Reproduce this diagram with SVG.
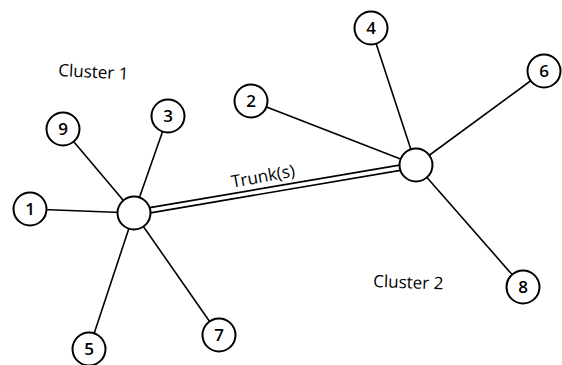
<svg xmlns="http://www.w3.org/2000/svg" width="562" height="365" viewBox="0 0 562 365">
  <style>
    .edge { stroke: #000; stroke-width: 1.6; fill: none; }
    .trunk-outer { stroke: #000; stroke-width: 7; fill: none; }
    .trunk-inner { stroke: #fff; stroke-width: 3.6; fill: none; }
    .node circle { fill: #fff; stroke: #000; stroke-width: 2; }
    .node text { font-family: "Open Sans", "Liberation Sans", sans-serif; font-size: 17px; font-weight: 600; text-anchor: middle; fill: #000; }
    .label { font-family: "Open Sans", "Liberation Sans", sans-serif; font-size: 17px; fill: #000; }
  </style>
  <rect width="562" height="365" fill="#fff"/>

  <g id="connectors">
    <line class="trunk-outer" x1="134" y1="213" x2="416" y2="165"/>
    <line class="trunk-inner" x1="134" y1="213" x2="416" y2="165"/>
    <line class="edge" x1="134" y1="213" x2="30" y2="209"/>
    <line class="edge" x1="134" y1="213" x2="63" y2="129"/>
    <line class="edge" x1="134" y1="213" x2="168" y2="116"/>
    <line class="edge" x1="134" y1="213" x2="89" y2="349"/>
    <line class="edge" x1="134" y1="213" x2="219" y2="335"/>
    <line class="edge" x1="416" y1="165" x2="251" y2="101"/>
    <line class="edge" x1="416" y1="165" x2="371" y2="28"/>
    <line class="edge" x1="416" y1="165" x2="544" y2="71"/>
    <line class="edge" x1="416" y1="165" x2="523" y2="287"/>
  </g>

  <g id="hub1" class="node"><circle cx="134" cy="213" r="16.5"/></g>
  <g id="hub2" class="node"><circle cx="416" cy="165" r="16.5"/></g>

  <g id="n1" class="node"><circle cx="30" cy="209" r="16.5"/><text x="30" y="215">1</text></g>
  <g id="n2" class="node"><circle cx="251" cy="101" r="16.5"/><text x="251" y="107">2</text></g>
  <g id="n3" class="node"><circle cx="168" cy="116" r="16.5"/><text x="168" y="122">3</text></g>
  <g id="n4" class="node"><circle cx="371" cy="28" r="16.5"/><text x="371" y="34">4</text></g>
  <g id="n5" class="node"><circle cx="89" cy="349" r="16.5"/><text x="89" y="355">5</text></g>
  <g id="n6" class="node"><circle cx="544" cy="71" r="16.5"/><text x="544" y="77">6</text></g>
  <g id="n7" class="node"><circle cx="219" cy="335" r="16.5"/><text x="219" y="341">7</text></g>
  <g id="n8" class="node"><circle cx="523" cy="287" r="16.5"/><text x="523" y="293">8</text></g>
  <g id="n9" class="node"><circle cx="63" cy="129" r="16.5"/><text x="63" y="135">9</text></g>

  <text class="label" x="58" y="76" transform="rotate(3 58 76)">Cluster 1</text>
  <text class="label" x="373" y="287" transform="rotate(2 373 287)">Cluster 2</text>
  <text class="label" x="264" y="182" text-anchor="middle" transform="rotate(-10.5 264 182)">Trunk(s)</text>
</svg>
